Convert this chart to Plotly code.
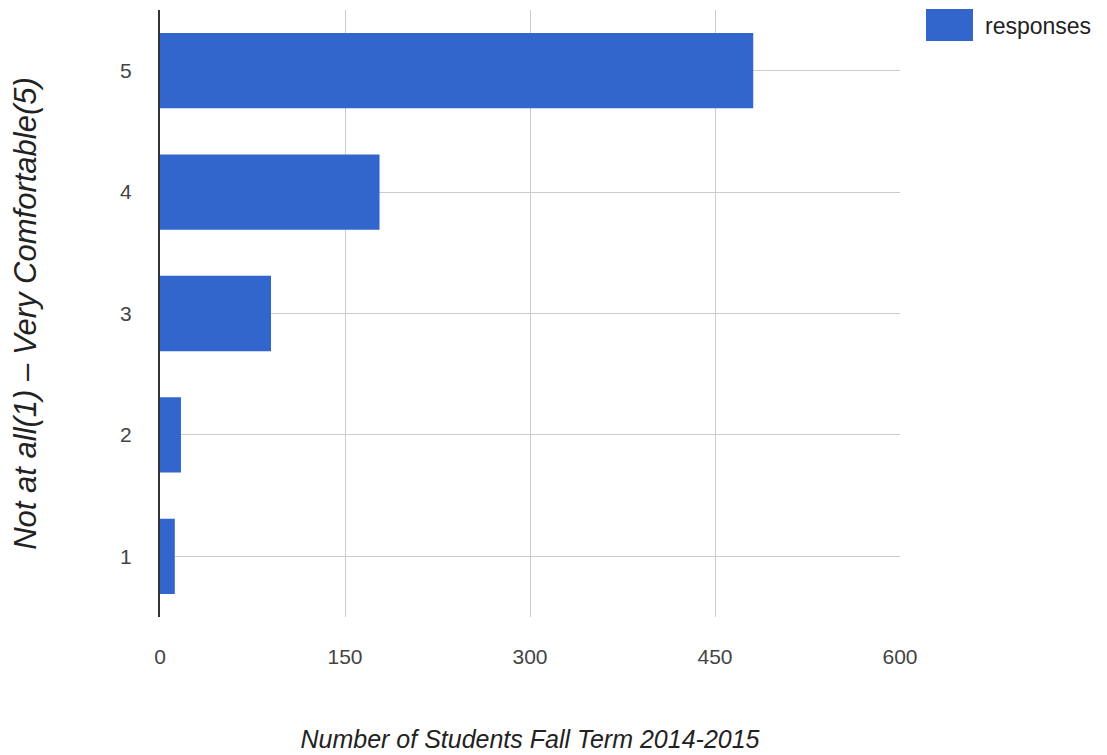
import plotly.graph_objects as go

# survey answers, 1 = not at all, 5 = very comfortable
ratings = ["1", "2", "3", "4", "5"]
responses = [12, 17, 90, 178, 481]

x_ticks = [0, 150, 300, 450, 600]

# the page body adds an 8px offset, so the figure is a bit smaller than the window
OFF = 8
W, H = 1107 - OFF, 755 - OFF
ml, mt = 160 - OFF, 10 - OFF
pw, ph = 740, 607
mr = W - ml - pw
mb = H - mt - ph


def px_x(px):
    return (px - OFF - ml) / pw


def px_y(py):
    return (mt + ph - (py - OFF)) / ph


tick_font = dict(family="Liberation Sans, Arial", size=21, color="#444444")

fig = go.Figure(
    go.Bar(
        x=responses,
        y=ratings,
        orientation="h",
        name="responses",
        marker=dict(color="#3366cc", line=dict(width=0)),
        width=0.62,
        showlegend=False,
    )
)

fig.update_layout(
    width=W,
    height=H,
    margin=dict(l=ml, r=mr, t=mt, b=mb),
    paper_bgcolor="white",
    plot_bgcolor="white",
    font=dict(family="Liberation Sans, Arial", color="#222222"),
)

fig.update_xaxes(
    range=[0, 600],
    tickvals=x_ticks,
    ticktext=[str(v) for v in x_ticks],
    showgrid=True,
    gridcolor="#cccccc",
    gridwidth=1,
    zeroline=False,
    showline=False,
    ticks="",
    tickfont=tick_font,
    ticklabelstandoff=25,
    title=dict(
        text="<i>Number of Students Fall Term 2014-2015</i>",
        font=dict(family="Liberation Sans, Arial", size=25, color="#222222"),
        standoff=63,
    ),
    automargin=False,
)

fig.update_yaxes(
    type="category",
    categoryorder="array",
    categoryarray=ratings,
    range=[-0.5, 4.5],
    showgrid=True,
    gridcolor="#cccccc",
    gridwidth=1,
    showline=True,
    linecolor="#333333",
    linewidth=2,
    ticks="",
    tickfont=tick_font,
    ticklabelstandoff=22,
    title=dict(
        text="<i>Not at all(1) – Very Comfortable(5)</i>",
        font=dict(family="Liberation Sans, Arial", size=31, color="#222222"),
        standoff=80,
    ),
    automargin=False,
)

# legend drawn by hand so the swatch matches the original size
fig.add_shape(
    type="rect",
    xref="paper",
    yref="paper",
    x0=px_x(926),
    x1=px_x(973),
    y0=px_y(41),
    y1=px_y(9),
    fillcolor="#3366cc",
    line=dict(width=0),
)
fig.add_annotation(
    x=px_x(983),
    y=px_y(26),
    xref="paper",
    yref="paper",
    xanchor="left",
    yanchor="middle",
    text="responses",
    showarrow=False,
    font=dict(family="Liberation Sans, Arial", size=23, color="#222222"),
)

fig.write_html("out.html")
